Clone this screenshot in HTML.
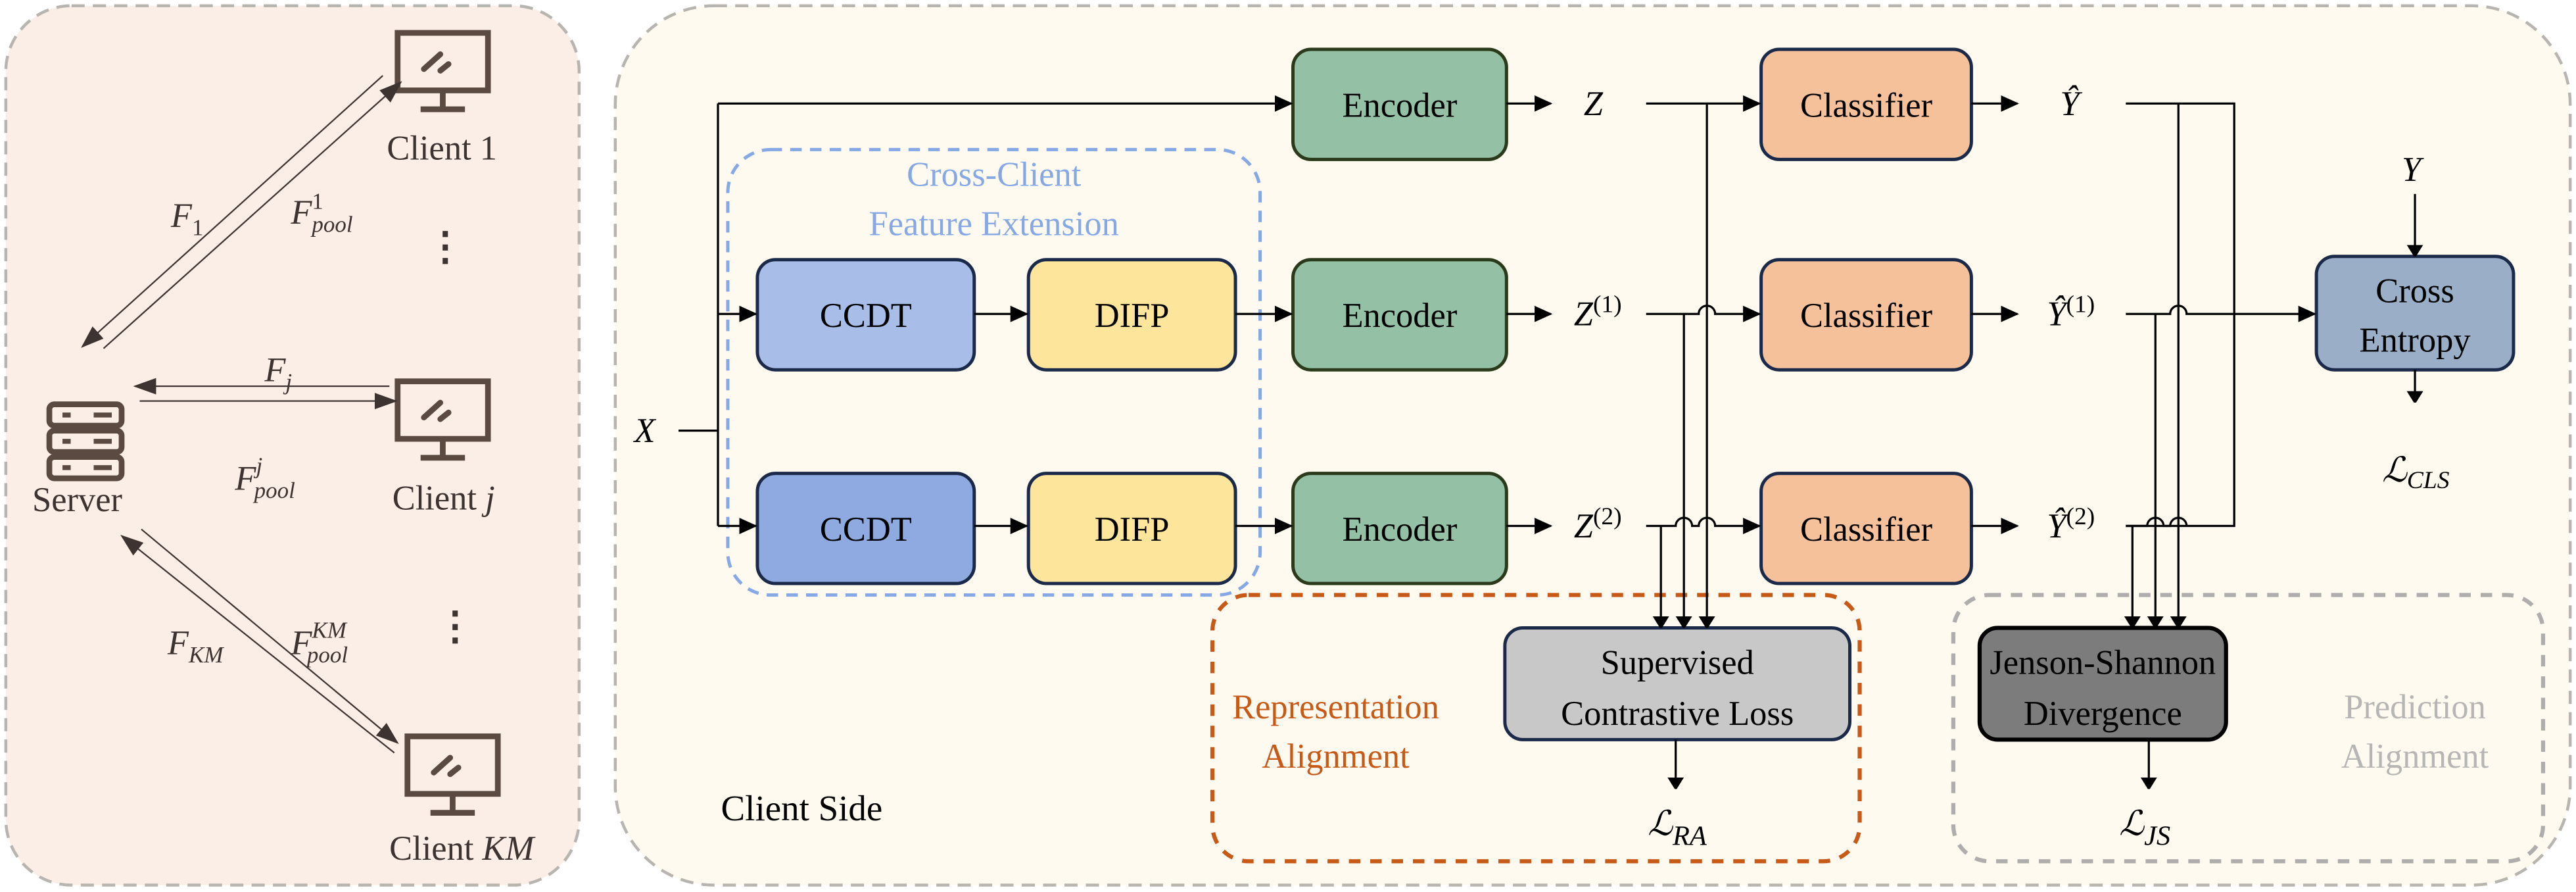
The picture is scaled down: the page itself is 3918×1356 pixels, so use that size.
<!DOCTYPE html>
<html><head><meta charset="utf-8"><style>
html,body{margin:0;padding:0;background:#fff;}
svg{display:block;font-family:"Liberation Serif","DejaVu Serif",serif;}
text{font-family:"Liberation Serif","DejaVu Serif",serif;}
.b{font-family:"Liberation Serif",serif;font-size:21px;text-anchor:middle;fill:#000;}
.m{font-family:"Liberation Serif",serif;font-style:italic;font-size:21px;fill:#000;}
.box{stroke:#1c2a4a;stroke-width:2;}
.ln{stroke:#000;stroke-width:1.3;fill:none;}
.ll{stroke:#3d3330;stroke-width:0.9;fill:none;}
</style></head><body>
<svg width="3918" height="1356" viewBox="0 0 1568 542.7" xmlns="http://www.w3.org/2000/svg" font-family="Liberation Serif, serif">
<defs>
<marker id="a" markerWidth="11" markerHeight="10" refX="10" refY="5" orient="auto" markerUnits="userSpaceOnUse"><path d="M0,0 L11,5 L0,10 z" fill="#000"/></marker>
<marker id="s" markerWidth="7" markerHeight="18" refX="6" refY="9" orient="auto" markerUnits="userSpaceOnUse"><path d="M0,4 L8,9 L0,14 z" fill="#000"/></marker>
<marker id="g" markerWidth="14" markerHeight="10" refX="13" refY="5" orient="auto" markerUnits="userSpaceOnUse"><path d="M0,0 L14,5 L0,10 z" fill="#3d3330"/></marker>
</defs>
<rect x="0" y="0" width="1568" height="543" fill="#fff"/>
<rect x="3.5" y="3.5" width="349" height="535" rx="40" fill="#fbeee6" stroke="#b8b4b0" stroke-width="1.8" stroke-dasharray="8,5"/>
<rect x="374.5" y="3.5" width="1190" height="535" rx="60" fill="#fefaf0" stroke="#b8b4b0" stroke-width="1.8" stroke-dasharray="8,5"/>

<g fill="none" stroke="#5a4a42" stroke-width="3.5">
<rect x="30" y="246" width="44" height="13" rx="3"/>
<rect x="30" y="262" width="44" height="13" rx="3"/>
<rect x="30" y="278" width="44" height="13" rx="3"/>
</g>
<g stroke="#5a4a42" stroke-width="3">
<line x1="38" y1="252.5" x2="43" y2="252.5"/><line x1="57" y1="252.5" x2="68" y2="252.5"/>
<line x1="38" y1="268.5" x2="43" y2="268.5"/><line x1="57" y1="268.5" x2="68" y2="268.5"/>
<line x1="38" y1="284.5" x2="43" y2="284.5"/><line x1="57" y1="284.5" x2="68" y2="284.5"/>
</g>
<text x="47" y="311" class="b" style="fill:#3d3330">Server</text>
<g id="mon" fill="none" stroke="#5a4a42" stroke-width="3.5">
<rect x="242" y="20" width="55" height="35"/>
<line x1="269.5" y1="55" x2="269.5" y2="66"/>
<line x1="256" y1="66.5" x2="283" y2="66.5"/>
<line x1="258" y1="42" x2="268" y2="33" stroke-linecap="round"/>
<line x1="268" y1="43" x2="273" y2="39" stroke-linecap="round"/>
</g>
<use href="#mon" y="212"/>
<use href="#mon" x="6" y="428"/>
<text x="269" y="97" class="b" style="fill:#3d3330">Client 1</text>
<text x="270" y="310" class="b" style="fill:#3d3330">Client <tspan font-style="italic">j</tspan></text>
<text x="281" y="523" class="b" style="fill:#3d3330">Client <tspan font-style="italic">KM</tspan></text>
<text x="271" y="158" class="b" style="fill:#3d3330;font-size:24px;font-weight:bold">⋮</text>
<text x="277" y="389" class="b" style="fill:#3d3330;font-size:24px;font-weight:bold">⋮</text>
<line x1="233" y1="46" x2="50" y2="211" class="ll" marker-end="url(#g)"/>
<line x1="63" y1="212" x2="244" y2="50" class="ll" marker-end="url(#g)"/>
<line x1="237" y1="235" x2="82" y2="235" class="ll" marker-end="url(#g)"/>
<line x1="85" y1="244" x2="241" y2="244" class="ll" marker-end="url(#g)"/>
<line x1="240" y1="458" x2="74" y2="326" class="ll" marker-end="url(#g)"/>
<line x1="86" y1="322" x2="242" y2="452" class="ll" marker-end="url(#g)"/>
<text x="104" y="138" class="m" style="fill:#3d3330">F<tspan font-size="14" dy="5" font-style="normal">1</tspan></text>
<text x="177" y="136" class="m" style="fill:#3d3330">F<tspan font-size="14" dy="-9" font-style="normal">1</tspan><tspan font-size="14" dx="-7" dy="14">pool</tspan></text>
<text x="161" y="232" class="m" style="fill:#3d3330">F<tspan font-size="14" dy="5">j</tspan></text>
<text x="143" y="298" class="m" style="fill:#3d3330">F<tspan font-size="14" dy="-10">j</tspan><tspan font-size="14" dx="-5" dy="15">pool</tspan></text>
<text x="102" y="398" class="m" style="fill:#3d3330">F<tspan font-size="14" dy="5">KM</tspan></text>
<text x="177" y="398" class="m" style="fill:#3d3330">F<tspan font-size="14" dy="-10">KM</tspan><tspan font-size="14" dx="-24" dy="15">pool</tspan></text>

<rect x="443" y="91" width="324" height="271" rx="26" fill="none" stroke="#86a8e4" stroke-width="2" stroke-dasharray="7,5"/>
<text x="605" y="113" class="b" style="fill:#86a8e4">Cross-Client</text>
<text x="605" y="143" class="b" style="fill:#86a8e4">Feature Extension</text>
<rect x="738" y="362" width="394" height="162" rx="22" fill="none" stroke="#c85a18" stroke-width="2.5" stroke-dasharray="7,6"/>
<text x="813" y="437" class="b" style="fill:#c85a18">Representation</text>
<text x="813" y="467" class="b" style="fill:#c85a18">Alignment</text>
<rect x="1189" y="362" width="359" height="162" rx="22" fill="none" stroke="#b0aeac" stroke-width="2.5" stroke-dasharray="7,6"/>
<text x="1470" y="437" class="b" style="fill:#b8b6b4">Prediction</text>
<text x="1470" y="467" class="b" style="fill:#b8b6b4">Alignment</text>
<text x="488" y="499" class="b" style="font-size:22px">Client Side</text>

<rect x="787" y="30" width="130" height="67" rx="11" fill="#94c0a6" stroke="#2a3a1a" stroke-width="2"/>
<rect x="787" y="158" width="130" height="67" rx="11" fill="#94c0a6" stroke="#2a3a1a" stroke-width="2"/>
<rect x="787" y="288" width="130" height="67" rx="11" fill="#94c0a6" stroke="#2a3a1a" stroke-width="2"/>
<text x="852" y="71" class="b">Encoder</text>
<text x="852" y="199" class="b">Encoder</text>
<text x="852" y="329" class="b">Encoder</text>
<rect x="461" y="158" width="132" height="67" rx="11" fill="#a8bde8" class="box"/>
<rect x="461" y="288" width="132" height="67" rx="11" fill="#8eaae0" class="box"/>
<text x="527" y="199" class="b">CCDT</text>
<text x="527" y="329" class="b">CCDT</text>
<rect x="626" y="158" width="126" height="67" rx="11" fill="#fde59b" class="box"/>
<rect x="626" y="288" width="126" height="67" rx="11" fill="#fde59b" class="box"/>
<text x="689" y="199" class="b">DIFP</text>
<text x="689" y="329" class="b">DIFP</text>
<rect x="1072" y="30" width="128" height="67" rx="11" fill="#f5c19b" class="box"/>
<rect x="1072" y="158" width="128" height="67" rx="11" fill="#f5c19b" class="box"/>
<rect x="1072" y="288" width="128" height="67" rx="11" fill="#f5c19b" class="box"/>
<text x="1136" y="71" class="b">Classifier</text>
<text x="1136" y="199" class="b">Classifier</text>
<text x="1136" y="329" class="b">Classifier</text>
<rect x="1410" y="156" width="120" height="69" rx="11" fill="#9aaec8" class="box"/>
<text x="1470" y="184" class="b">Cross</text>
<text x="1470" y="214" class="b">Entropy</text>
<rect x="916" y="382" width="210" height="68" rx="11" fill="#c8c8c8" class="box"/>
<text x="1021" y="410" class="b">Supervised</text>
<text x="1021" y="441" class="b">Contrastive Loss</text>
<rect x="1205" y="382" width="150" height="68" rx="11" fill="#7c7c7c" stroke="#000" stroke-width="2.5"/>
<text x="1280" y="410" class="b">Jenson-Shannon</text>
<text x="1280" y="441" class="b">Divergence</text>

<text x="386" y="269" class="m">X</text>
<polyline points="413,262 437,262" class="ln"/>
<line x1="437" y1="63" x2="437" y2="320" class="ln"/>
<line x1="437" y1="63" x2="786" y2="63" class="ln" marker-end="url(#a)"/>
<line x1="437" y1="191" x2="460" y2="191" class="ln" marker-end="url(#a)"/>
<line x1="437" y1="320" x2="460" y2="320" class="ln" marker-end="url(#a)"/>
<line x1="593" y1="191" x2="625" y2="191" class="ln" marker-end="url(#a)"/>
<line x1="593" y1="320" x2="625" y2="320" class="ln" marker-end="url(#a)"/>
<line x1="752" y1="191" x2="786" y2="191" class="ln" marker-end="url(#a)"/>
<line x1="752" y1="320" x2="786" y2="320" class="ln" marker-end="url(#a)"/>
<line x1="917" y1="63" x2="944" y2="63" class="ln" marker-end="url(#a)"/>
<line x1="917" y1="191" x2="944" y2="191" class="ln" marker-end="url(#a)"/>
<line x1="917" y1="320" x2="944" y2="320" class="ln" marker-end="url(#a)"/>

<text x="964" y="70" class="m">Z</text>
<text x="958" y="198" class="m">Z<tspan font-size="15" dy="-8" font-style="normal">(1)</tspan></text>
<text x="958" y="327" class="m">Z<tspan font-size="15" dy="-8" font-style="normal">(2)</tspan></text>

<line x1="1002" y1="63" x2="1071" y2="63" class="ln" marker-end="url(#a)"/>
<path d="M1002,191 H1034 a5,5 0 0 1 10,0 H1071" class="ln" marker-end="url(#a)"/>
<path d="M1002,320 H1020 a5,5 0 0 1 10,0 H1034 a5,5 0 0 1 10,0 H1071" class="ln" marker-end="url(#a)"/>
<line x1="1039" y1="63" x2="1039" y2="381" class="ln" marker-end="url(#s)"/>
<line x1="1025" y1="191" x2="1025" y2="381" class="ln" marker-end="url(#s)"/>
<line x1="1011" y1="320" x2="1011" y2="381" class="ln" marker-end="url(#s)"/>

<line x1="1200" y1="63" x2="1228" y2="63" class="ln" marker-end="url(#a)"/>
<line x1="1200" y1="191" x2="1228" y2="191" class="ln" marker-end="url(#a)"/>
<line x1="1200" y1="320" x2="1228" y2="320" class="ln" marker-end="url(#a)"/>
<text x="1254" y="70" class="m">Ŷ</text>
<text x="1246" y="198" class="m">Ŷ<tspan font-size="15" dy="-8" font-style="normal">(1)</tspan></text>
<text x="1246" y="327" class="m">Ŷ<tspan font-size="15" dy="-8" font-style="normal">(2)</tspan></text>

<polyline points="1294,63 1360,63 1360,320 1294,320" class="ln"/>
<path d="M1294,191 H1321 a5,5 0 0 1 10,0 H1409" class="ln" marker-end="url(#a)"/>
<path d="M1294,320 H1307 a5,5 0 0 1 10,0 H1321 a5,5 0 0 1 10,0" class="ln"/>
<line x1="1326" y1="63" x2="1326" y2="381" class="ln" marker-end="url(#s)"/>
<line x1="1312" y1="191" x2="1312" y2="381" class="ln" marker-end="url(#s)"/>
<line x1="1298" y1="320" x2="1298" y2="381" class="ln" marker-end="url(#s)"/>

<text x="1462" y="110" class="m">Y</text>
<line x1="1470" y1="118" x2="1470" y2="155" class="ln" marker-end="url(#s)"/>
<line x1="1470" y1="225" x2="1470" y2="244" class="ln" marker-end="url(#s)"/>
<text x="1450" y="293" class="m">ℒ<tspan font-size="15" dy="4">CLS</tspan></text>
<line x1="1020" y1="450" x2="1020" y2="479" class="ln" marker-end="url(#s)"/>
<text x="1003" y="508" class="m">ℒ<tspan font-size="17" dy="6">RA</tspan></text>
<line x1="1308" y1="450" x2="1308" y2="479" class="ln" marker-end="url(#s)"/>
<text x="1290" y="508" class="m">ℒ<tspan font-size="17" dy="6">JS</tspan></text>
</svg>
</body></html>
